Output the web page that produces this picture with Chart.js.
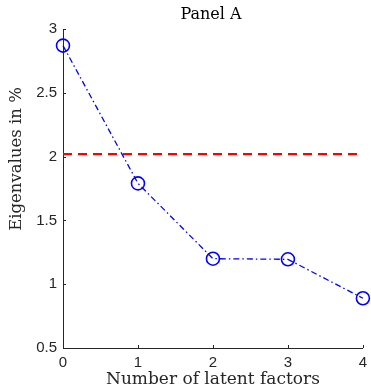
<!DOCTYPE html>
<html>
<head>
<meta charset="utf-8">
<script src="https://cdn.jsdelivr.net/npm/chart.js@4"></script>
<style>
  html, body { margin: 0; padding: 0; background: #fff; }
  #wrap { width: 371px; height: 388px; }
</style>
</head>
<body>
<div id="wrap"><canvas id="chart"></canvas></div>
<script>
// valeurs
const factors = ["0", "1", "2", "3", "4"];
const eigenvalues = [2.87, 1.79, 1.20, 1.195, 0.89];
const threshold = [2.02, 2.02, 2.02, 2.02, 2.02];
const yTicks = [0.5, 1, 1.5, 2, 2.5, 3];

const axisColor = "#262626";
const serif = "'DejaVu Serif', 'Liberation Serif', serif";

// graduations vers l'intérieur + titres placés comme sur la figure MATLAB
const decorations = {
    id: "decorations",
    afterDraw(chart) {
        const ctx = chart.ctx;
        const x = chart.scales.x, y = chart.scales.y;
        ctx.save();
        ctx.strokeStyle = axisColor;
        ctx.lineWidth = 1;
        ctx.beginPath();
        x.ticks.forEach((t, i) => {
            const px = Math.round(x.getPixelForTick(i)) + 0.5;
            ctx.moveTo(px, y.bottom);
            ctx.lineTo(px, y.bottom - 3);
        });
        yTicks.forEach(v => {
            const py = Math.round(y.getPixelForValue(v)) + 0.5;
            ctx.moveTo(x.left, py);
            ctx.lineTo(x.left + 3, py);
        });
        ctx.stroke();

        // titre du panneau
        ctx.fillStyle = "#000";
        ctx.textAlign = "center";
        ctx.textBaseline = "middle";
        ctx.font = "16px " + serif;
        ctx.fillText("Panel A", 211, 15);

        // titre de l'axe Y
        ctx.fillStyle = axisColor;
        ctx.font = "16.5px " + serif;
        ctx.translate(17, 159);
        ctx.rotate(-Math.PI / 2);
        ctx.fillText("Eigenvalues in %", 0, 0);
        ctx.restore();
    }
};

new Chart(document.getElementById("chart"), {
    type: "line",
    data: {
        labels: factors,
        datasets: [
            {
                data: eigenvalues,
                borderColor: "#0000ff",
                borderWidth: 1.3,
                borderDash: [6, 3, 1.5, 3],
                pointStyle: "circle",
                pointRadius: 6.5,
                pointBorderWidth: 1.6,
                pointBorderColor: "#0000ff",
                pointBackgroundColor: "rgba(0,0,0,0)",
                tension: 0,
                clip: false,
                order: 1
            },
            {
                data: threshold,
                borderColor: "#ff0000",
                borderWidth: 2.2,
                borderDash: [9, 6],
                pointRadius: 0,
                tension: 0,
                clip: false,
                order: 2
            }
        ]
    },
    options: {
        responsive: true,
        maintainAspectRatio: false,
        animation: false,
        events: [],
        layout: { padding: { left: 0, right: 8, top: 29, bottom: 0 } },
        plugins: {
            legend: { display: false },
            tooltip: { enabled: false },
            title: { display: false }
        },
        scales: {
            x: {
                offset: false,
                grid: { display: true, drawOnChartArea: false, drawTicks: false },
                border: { color: axisColor, width: 1 },
                ticks: {
                    color: axisColor,
                    padding: 6,
                    maxRotation: 0,
                    font: { family: "'Liberation Sans', Arial, sans-serif", size: 15 }
                },
                title: {
                    display: true,
                    text: "Number of latent factors",
                    color: axisColor,
                    padding: { top: 0, bottom: -2 },
                    font: { family: serif, size: 17 }
                },
                afterFit(scale) {
                    scale.height = 40;
                    scale.paddingLeft = 0;
                    scale.paddingRight = 0;
                }
            },
            y: {
                min: 0.5,
                max: 3,
                grid: { display: true, drawOnChartArea: false, drawTicks: false },
                border: { color: axisColor, width: 1 },
                afterBuildTicks(scale) {
                    scale.ticks = yTicks.map(v => ({ value: v }));
                },
                ticks: {
                    color: axisColor,
                    padding: 6,
                    callback: v => String(v),
                    font: { family: "'Liberation Sans', Arial, sans-serif", size: 15 }
                },
                title: { display: false },
                afterFit(scale) {
                    scale.width = 63;
                    scale.paddingTop = 0;
                    scale.paddingBottom = 0;
                }
            }
        }
    },
    plugins: [decorations]
});
</script>
</body>
</html>
